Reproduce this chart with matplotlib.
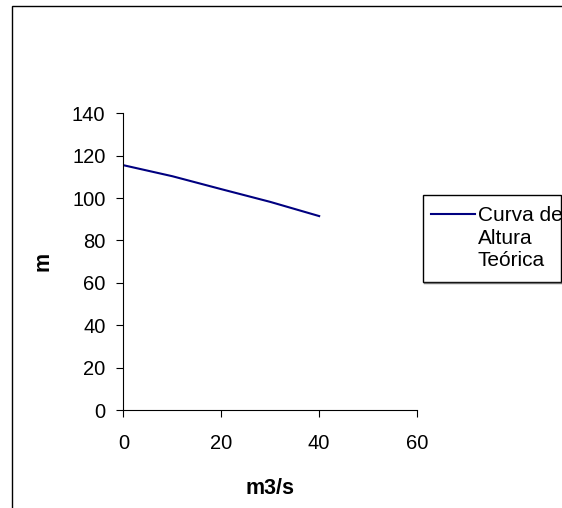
import matplotlib
matplotlib.use("Agg")
import matplotlib.pyplot as plt
from matplotlib.patches import Rectangle
from matplotlib.lines import Line2D

plt.rcParams['font.family'] = ['Liberation Sans', 'DejaVu Sans']

# Theoretical head curve: flow (m3/s) vs head (m)
caudal = [0, 10, 20, 30, 40]
altura = [115.5, 110.3, 104.2, 98.2, 91.5]
x_ticks = [0, 20, 40, 60]
y_ticks = [0, 20, 40, 60, 80, 100, 120, 140]
serie = "Curva de\nAltura\nTeórica"

W, H = 562, 508
fig = plt.figure(figsize=(W / 100, H / 100), dpi=100)

# outer chart frame (extends past the right and bottom edges)
fig.add_artist(Rectangle((11.5 / W, -0.05), 1.2, 1 - 6.5 / H + 0.05,
                         transform=fig.transFigure, fill=False,
                         edgecolor='black', linewidth=1.0))

x0, x1 = 123.5, 417.0
y0, y1 = 410.0, 113.3
ax = fig.add_axes([x0 / W, 1 - y0 / H, (x1 - x0) / W, (y0 - y1) / H])
ax.plot(caudal, altura, color='#000080', linewidth=1.5)

ax.set_xlim(0, 60)
ax.set_ylim(0, 140)
ax.set_xticks(x_ticks)
ax.set_yticks(y_ticks)
for s in ('top', 'right'):
    ax.spines[s].set_visible(False)
for s in ('left', 'bottom'):
    ax.spines[s].set_linewidth(0.8)
ax.tick_params(direction='out', length=5, width=0.8, labelsize=14.5)
ax.tick_params(axis='x', pad=12.5)
ax.tick_params(axis='y', pad=8)
ax.set_xlabel("m3/s", fontsize=15.5, fontweight='bold', labelpad=18)
ax.set_ylabel("m", fontsize=15.5, fontweight='bold', labelpad=13)

# legend box with a slight shadow on its lower edge
lx0, lx1 = 423, 561
ly0, ly1 = 195, 282
fig.add_artist(Line2D([(lx0 + 1) / W, lx1 / W], [1 - (ly1 + 0.8) / H, 1 - (ly1 + 0.8) / H],
                      transform=fig.transFigure, color='#707070', linewidth=1.0))
fig.add_artist(Rectangle((lx0 / W, 1 - ly1 / H), (lx1 - lx0) / W, (ly1 - ly0) / H,
                         transform=fig.transFigure, fill=False,
                         edgecolor='black', linewidth=1.0))
fig.add_artist(Line2D([431 / W, 475 / W], [1 - 214 / H, 1 - 214 / H],
                      transform=fig.transFigure, color='#000080', linewidth=1.5))
fig.text(477.5 / W, 1 - 206 / H, serie, fontsize=15, va='top', ha='left',
         linespacing=1.25)

fig.savefig("out.png", dpi=100)
